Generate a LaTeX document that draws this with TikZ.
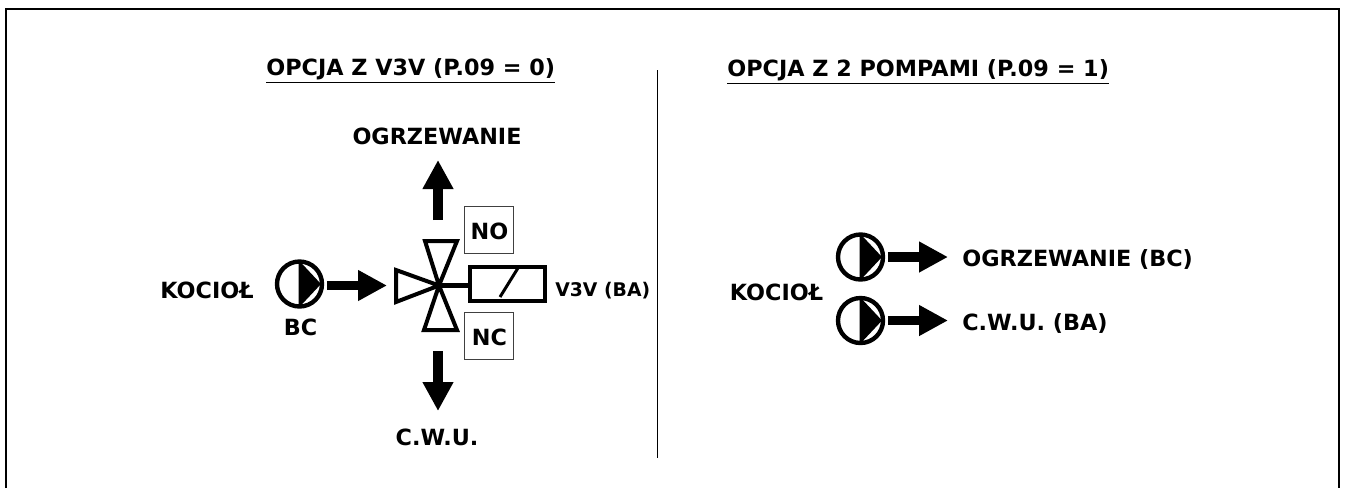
\documentclass[tikz,border=0pt]{standalone}
\usepackage{fontspec}
\setmainfont{DejaVu Sans}
\usetikzlibrary{arrows.meta}
\tikzset{
    lbl/.style={font=\bfseries\fontsize{12.7pt}{15pt}\selectfont,inner sep=0pt,text height=9.3pt,text depth=0pt},
    lblsmall/.style={font=\bfseries\fontsize{10.7pt}{13pt}\selectfont,inner sep=0pt,text height=7.8pt,text depth=0pt},
    pump/.style={circle,draw,line width=4.4*0.02cm,minimum size=45*0.02cm,inner sep=0pt},
    flow/.style={line width=9.5*0.02cm,-{Triangle[length=29*0.02cm,width=29*0.02cm]}},
    vtri/.style={draw,line width=4*0.02cm,miter limit=10},
    tagbox/.style={draw=black!75,line width=1*0.02cm,minimum width=49*0.02cm,minimum height=47*0.02cm,inner sep=0pt}
}
\begin{document}
\begin{tikzpicture}[x=0.02cm,y=-0.02cm]
    \useasboundingbox (0,0) rectangle (1345,488);
    % outer frame and divider, the frame runs off at the bottom
    \coordinate (frameleft) at (6,488);
    \coordinate (frameright) at (1339,488);
    \draw[line width=2.2*0.02cm] (frameleft) |- (1339,9) -- (frameright);
    \coordinate (divtop) at (657,70);
    \coordinate (divbot) at (657,458);
    \draw[line width=1*0.02cm] (divtop) -- (divbot);
    % titles
    \node[lbl,anchor=west] (titleleft) at (266,67.5) {\underline{OPCJA Z V3V (P.09 = 0)}};
    \node[lbl,anchor=west] (titleright) at (727,68.5) {\underline{OPCJA Z 2 POMPAMI (P.09 = 1)}};
    % left side, valve at the middle
    \coordinate (valve) at (439,285.5);
    \filldraw[vtri,fill=white] (396,270) -- (valve) -- (396,302) -- cycle;
    \filldraw[vtri,fill=white] (425,241) -- (valve) -- (457,241) -- cycle;
    \filldraw[vtri,fill=white] (424,330) -- (valve) -- (457,330) -- cycle;
    \node[draw,line width=4*0.02cm,minimum width=75*0.02cm,minimum height=34*0.02cm,inner sep=0pt] (coil) at (507.5,284) {};
    \draw[line width=4.5*0.02cm] (valve) -- (coil.west |- valve);
    \draw[line width=3*0.02cm] (500,297) -- (518,268);
    \node[pump] (pumpbc) at (299.5,284) {};
    \fill (298.5,260) -- (321,284) -- (298.5,308) -- cycle;
    \coordinate (valvein) at (387,285.5);
    \draw[flow,shorten <=3*0.02cm] (pumpbc.east |- valvein) -- (valvein);
    \coordinate (upstart) at (438,220);
    \coordinate (downstart) at (438,351);
    \draw[flow] (upstart) -- (438,160);
    \draw[flow] (downstart) -- (438,411);
    \node[tagbox,lbl] (tagno) at (489,230) {};
    \node[lbl] (txtno) at (489.5,231.5) {NO};
    \node[tagbox,lbl] (tagnc) at (489,336) {};
    \node[lbl] (txtnc) at (489.5,337) {NC};
    \node[lbl] (ogrzleft) at (437,136) {OGRZEWANIE};
    \node[lbl] (cwuleft) at (437,437) {C.W.U.};
    \node[lbl] (kocleft) at (207,290) {KOCIOŁ};
    \node[lbl] (bc) at (300.5,327) {BC};
    \node[lblsmall,anchor=west] (v3v) at (555,289.5) {V3V (BA)};
    % right side, two pumps
    \node[lbl] (kocright) at (776.5,292) {KOCIOŁ};
    \foreach \name/\y/\txt in {a/257/OGRZEWANIE (BC),b/320.5/C.W.U. (BA)} {
        \node[pump] (pump\name) at (860.5,\y) {};
        \fill (859.5,\y-24) -- (882,\y) -- (859.5,\y+24) -- cycle;
        \node[lbl,anchor=west] (out\name) at (962,\y+1.5) {\txt};
        \draw[flow,shorten <=3*0.02cm] (pump\name.east) -- (948,\y);
    }
\end{tikzpicture}
\end{document}
